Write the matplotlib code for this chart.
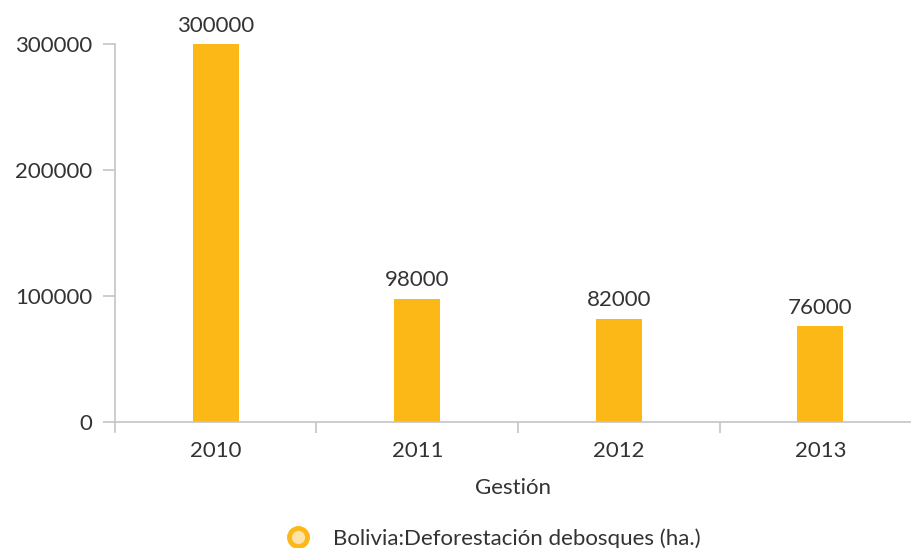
import matplotlib.pyplot as plt
from matplotlib.lines import Line2D

plt.rcParams['font.family'] = ['Lato', 'DejaVu Sans']

years = ["2010", "2011", "2012", "2013"]
deforestacion = [300000, 98000, 82000, 76000]
yticks = [0, 100000, 200000, 300000]

bar_color = "#FCB817"
text_color = "#333333"
axis_color = "#C4C4CA"
fs = 16

fig = plt.figure(figsize=(9.11, 5.48), dpi=100)
ax = fig.add_axes([0.1262, 0.2299, 0.8738, 0.6898])

x = range(len(years))
ax.bar(x, deforestacion, width=0.23, color=bar_color, zorder=2)
for xi, v in zip(x, deforestacion):
    ax.annotate(str(v), (xi, v), xytext=(0, 6), textcoords="offset points",
                ha="center", va="bottom", fontsize=fs, color=text_color,
                annotation_clip=False)

ax.set_xlim(-0.5, 3.45)
ax.set_ylim(0, 300000)
ax.set_yticks(yticks)
ax.set_yticklabels([str(t) for t in yticks])

# category labels in the middle, ticks on the boundaries
ax.set_xticks([0.5, 1.5, 2.5], minor=False)
ax.set_xticklabels([])
ax.set_xticks(list(x), minor=True)
ax.set_xticklabels(years, minor=True)
ax.tick_params(axis="x", which="major", length=8, width=1.2,
               color=axis_color)
ax.tick_params(axis="x", which="minor", length=0, pad=14,
               labelsize=fs, labelcolor=text_color)
ax.tick_params(axis="y", length=8.5, width=1.2, color=axis_color,
               labelsize=fs, labelcolor=text_color, pad=8)

for side in ["top", "right"]:
    ax.spines[side].set_visible(False)
for side in ["left", "bottom"]:
    ax.spines[side].set_color(axis_color)
    ax.spines[side].set_linewidth(1.2)
ax.spines["left"].set_bounds(-8000, 300000)

ax.set_xlabel("Gestión", fontsize=fs, color=text_color, labelpad=12)

handle = Line2D([], [], marker="o", linestyle="none", markersize=13,
                markerfacecolor="#FDE3A7", markeredgecolor=bar_color,
                markeredgewidth=3.5)
fig.legend([handle], ["Bolivia:Deforestación debosques (ha.)"],
           loc="center", bbox_to_anchor=(0.536, 0.017), frameon=False,
           fontsize=fs, labelcolor=text_color, handletextpad=0.55)

fig.savefig("out.png", dpi=100)
